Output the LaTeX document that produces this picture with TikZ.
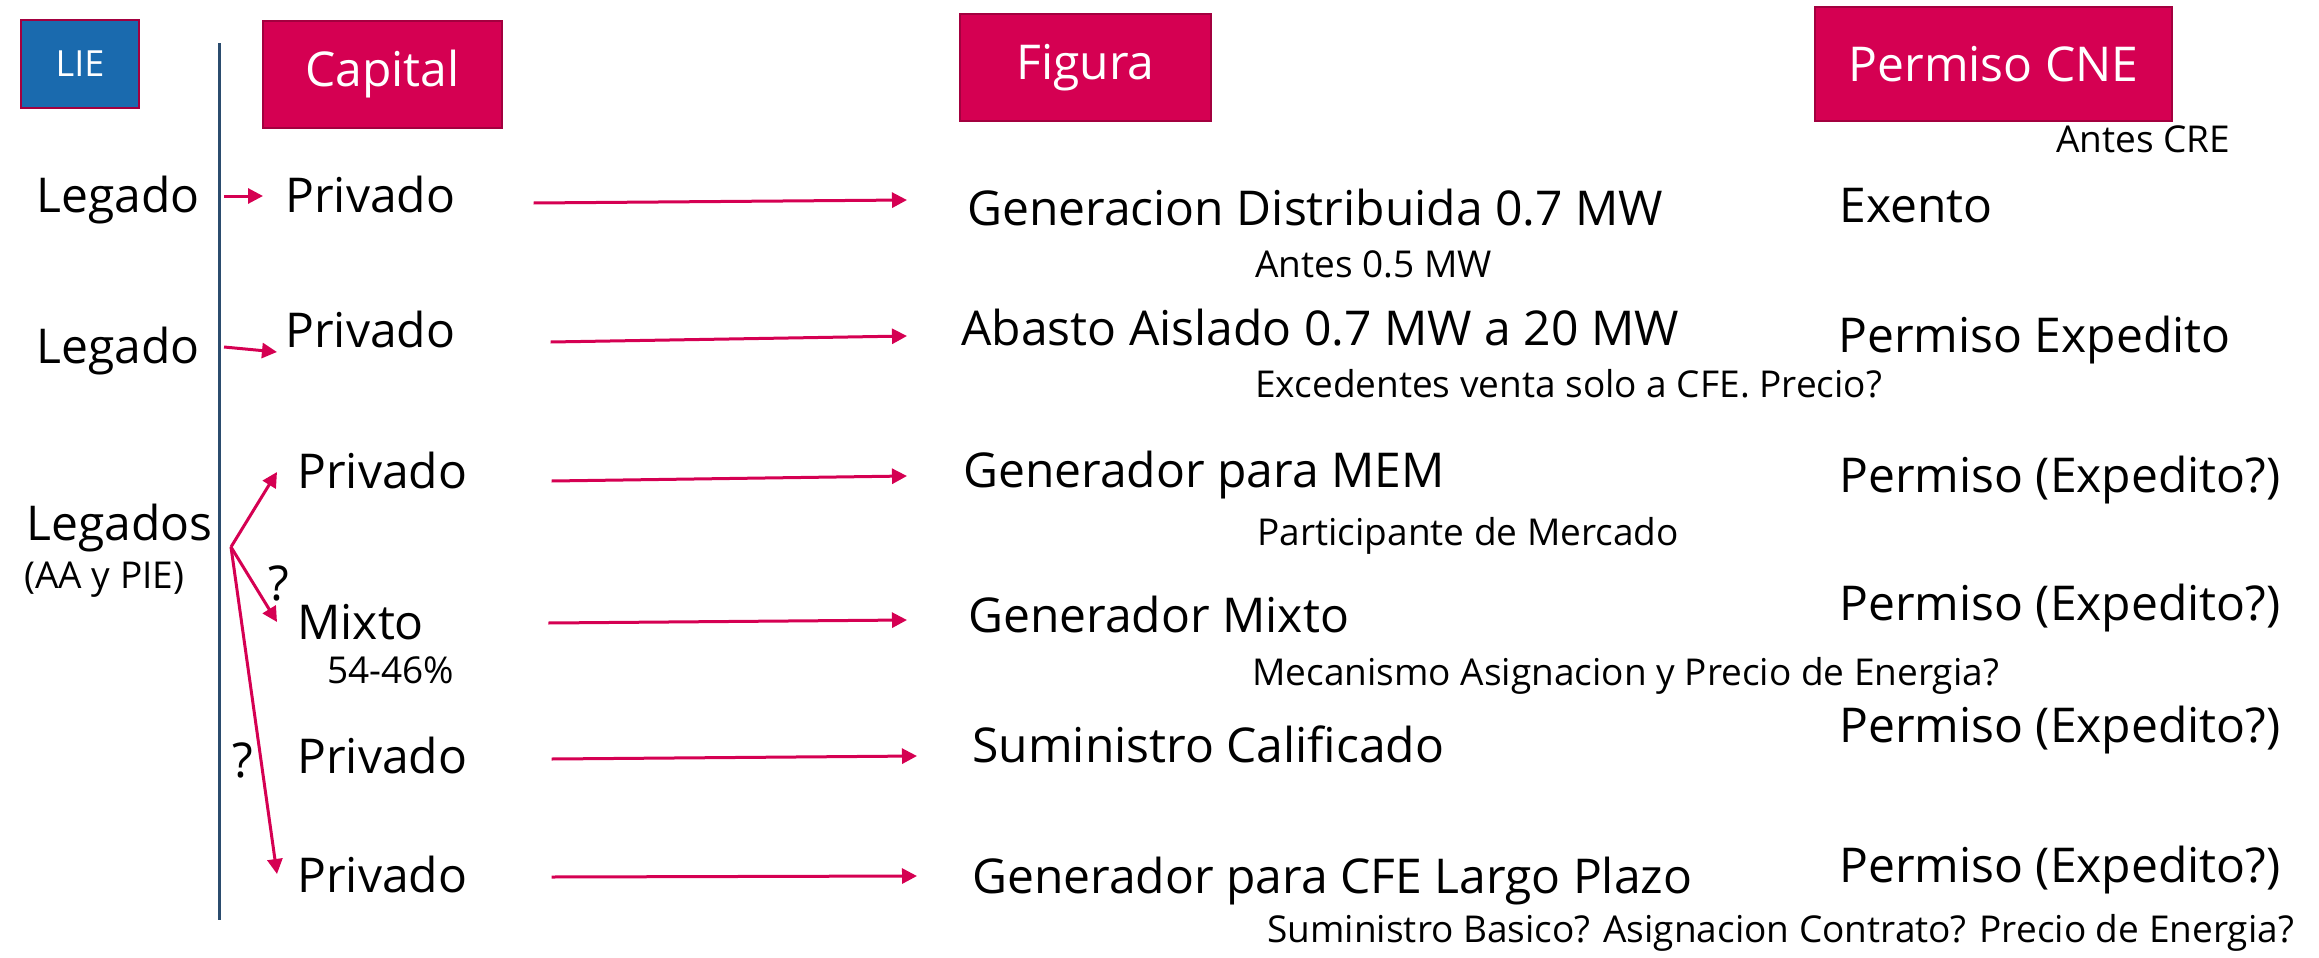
\documentclass[tikz,border=0pt]{standalone}
\usepackage{fontspec}
\setmainfont{Open Sans}
\usepackage{tikz}
\usetikzlibrary{arrows.meta}
\definecolor{crimson}{HTML}{D50052}
\definecolor{crimsondark}{HTML}{A3003F}
\definecolor{lieblue}{HTML}{1A6AAE}
\definecolor{rulenavy}{HTML}{2B4C6E}
\tikzstyle{header} = [rectangle, fill=crimson, draw=crimsondark, line width=1pt,
text=white, font=\fontsize{24}{28}\selectfont]
\tikzstyle{lietag} = [rectangle, minimum width=59pt, minimum height=44pt,
fill=lieblue, draw=crimsondark, line width=1.2pt, text=white,
font=\fontsize{18}{22}\selectfont]
\tikzstyle{big} = [inner sep=0pt, anchor=base west, text height=18pt,
text depth=6pt, font=\fontsize{24}{28}\selectfont]
\tikzstyle{note} = [inner sep=0pt, anchor=base west,
font=\fontsize{18.5}{22}\selectfont]
\tikzstyle{arrow} = [line width=1.5pt, draw=crimson,
-{Triangle[length=7.5pt,width=7.5pt]}]

\begin{document}
\begin{tikzpicture}[x=0.5pt, y=-0.5pt]
\useasboundingbox (0,0) rectangle (2319,958);

\node(lie)[lietag] at (80,64){LIE};
\node(capital)[header, minimum width=119.5pt, minimum height=53.5pt] at (382.5,74.5){Capital};
\node(figura)[header, minimum width=125.5pt, minimum height=53.5pt] at (1085.5,67.5){Figura};
\node(cne)[header, minimum width=178.5pt, minimum height=57pt] at (1993.5,64){Permiso CNE};
\node(antescre)[note] at (2056,152){Antes CRE};

\draw[line width=1.5pt, rulenavy] (219,43) -- (219,920);

\node(leg1)[big] at (36,212){Legado};
\node(leg2)[big] at (36,363){Legado};
\node(legs)[big] at (26,540){Legados};
\node(aapie)[note] at (24,588){(AA y PIE)};
\coordinate(split) at (231,547);

\node(priv1)[big] at (285,212){Privado};
\node(priv2)[big] at (285,347){Privado};
\node(priv3)[big] at (297,488){Privado};
\node(mixto)[big] at (297,639){Mixto};
\node(pct)[note] at (327,683){54-46\%};
\node(priv4)[big] at (297,773){Privado};
\node(priv5)[big] at (297,892){Privado};
\node(q1)[big] at (268,600){?};
\node(q2)[big] at (232,777){?};

\node(gd)[big] at (967,225){Generacion Distribuida 0.7 MW};
\node(gdnote)[note] at (1255,277){Antes 0.5 MW};
\node(aa)[big] at (961,345){Abasto Aislado 0.7 MW a 20 MW};
\node(aanote)[note] at (1255,397){Excedentes venta solo a CFE. Precio?};
\node(mem)[big] at (963,487){Generador para MEM};
\node(memnote)[note] at (1257,545){Participante de Mercado};
\node(gmix)[big] at (968,632){Generador Mixto};
\node(gmixnote)[note] at (1252,685){Mecanismo Asignacion y Precio de Energia?};
\node(sc)[big] at (972,762){Suministro Calificado};
\node(cfe)[big] at (972,893){Generador para CFE Largo Plazo};
\node(cfenote)[note] at (1267,942){Suministro Basico? Asignacion Contrato? Precio de Energia?};

\node(exento)[big] at (1839,222){Exento};
\node(pexp)[big] at (1838,352){Permiso Expedito};
\node(pmem)[big] at (1839,492){Permiso (Expedito?)};
\node(pmix)[big] at (1839,620){Permiso (Expedito?)};
\node(psc)[big] at (1839,742){Permiso (Expedito?)};
\node(pcfe)[big] at (1839,882){Permiso (Expedito?)};

\draw[arrow]([shift={(24,-4)}]leg1.east) -- ([shift={(-22,-4)}]priv1.west);
\draw[arrow]([shift={(24,-4)}]leg2.east) -- ([shift={(-8,17)}]priv2.west);
\draw[arrow](split) -- ([shift={(-20,-4)}]priv3.west);
\draw[arrow](split) -- ([shift={(-20,-5)}]mixto.west);
\draw[arrow](split) -- ([shift={(-20,-6)}]priv5.west);

\draw[arrow]([shift={(78,3)}]priv1.east) -- ([shift={(-60,-13)}]gd.west);
\draw[arrow]([shift={(95,7)}]priv2.east) -- ([shift={(-54,3)}]aa.west);
\draw[arrow]([shift={(84,5)}]priv3.east) -- ([shift={(-56,1)}]mem.west);
\draw[arrow]([shift={(124,-4)}]mixto.east) -- ([shift={(-61,0)}]gmix.west);
\draw[arrow]([shift={(84,-2)}]priv4.east) -- ([shift={(-55,6)}]sc.west);
\draw[arrow]([shift={(84,-3)}]priv5.east) -- ([shift={(-55,-5)}]cfe.west);

\end{tikzpicture}
\end{document}
